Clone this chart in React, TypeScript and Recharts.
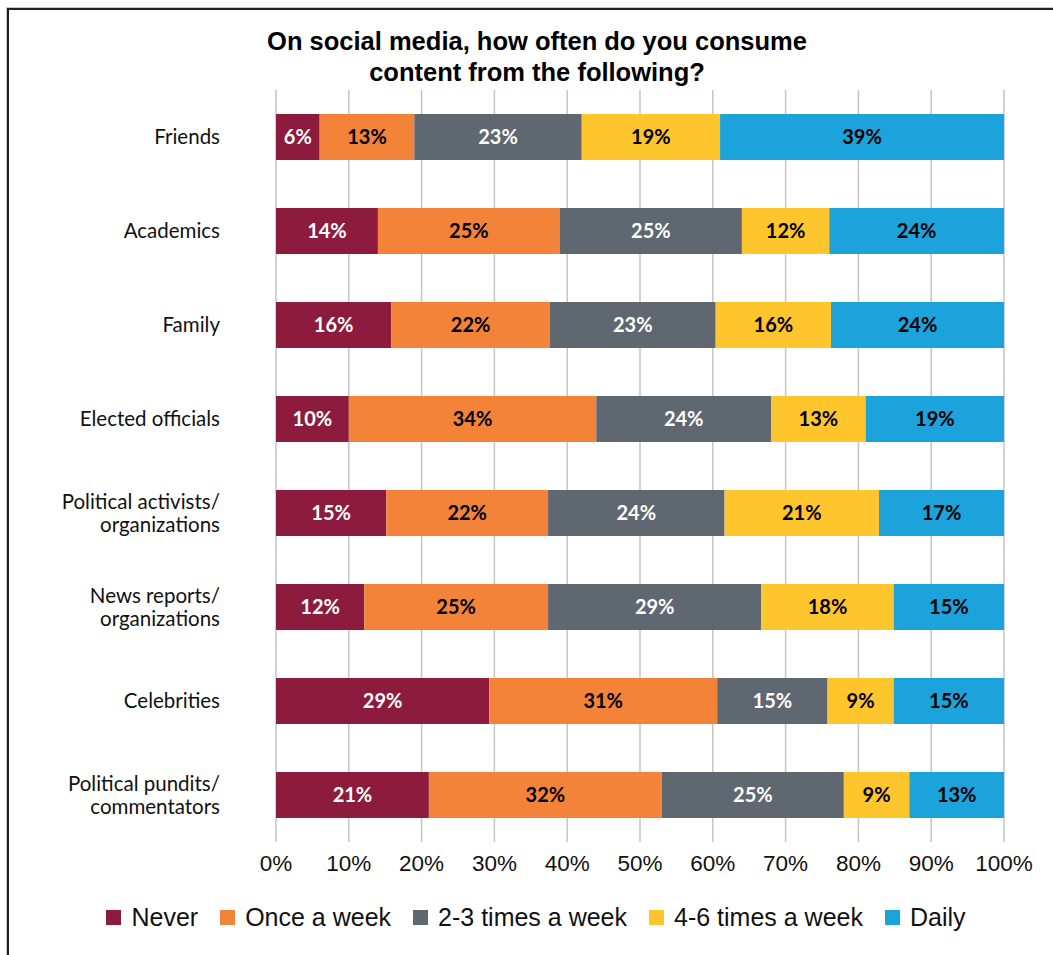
import React from "react";
import {
  BarChart,
  Bar,
  XAxis,
  YAxis,
  CartesianGrid,
  LabelList,
} from "recharts";

const categories = [
  "Friends",
  "Academics",
  "Family",
  "Elected officials",
  "Political activists/organizations",
  "News reports/organizations",
  "Celebrities",
  "Political pundits/commentators",
];

const never = [6, 14, 16, 10, 15, 12, 29, 21];
const onceWeek = [13, 25, 22, 34, 22, 25, 31, 32];
const twoThree = [23, 25, 23, 24, 24, 29, 15, 25];
const fourSix = [19, 12, 16, 13, 21, 18, 9, 9];
const daily = [39, 24, 24, 19, 17, 15, 15, 13];

const xTicks = [0, 0.1, 0.2, 0.3, 0.4, 0.5, 0.6, 0.7, 0.8, 0.9, 1];

const SERIES = [
  { key: "never", name: "Never", color: "#8C1B3E", text: "#fff" },
  { key: "onceWeek", name: "Once a week", color: "#F4833A", text: "#000" },
  { key: "twoThree", name: "2-3 times a week", color: "#5F6770", text: "#fff" },
  { key: "fourSix", name: "4-6 times a week", color: "#FEC52C", text: "#000" },
  { key: "daily", name: "Daily", color: "#1DA3DB", text: "#000" },
];

const data = categories.map((name, i) => ({
  name,
  never: never[i],
  onceWeek: onceWeek[i],
  twoThree: twoThree[i],
  fourSix: fourSix[i],
  daily: daily[i],
}));

const ARIAL = "'Liberation Sans', Arial, sans-serif";
const CALIBRI = "Lato, 'Noto Sans', sans-serif";

function splitLabel(s: string) {
  const i = s.indexOf("/");
  if (i < 0) return [s];
  return [s.slice(0, i + 1), s.slice(i + 1)];
}

const CategoryTick = ({ x, y, payload }: any) => {
  const lines = splitLabel(payload.value);
  const lh = 23;
  const start = y - ((lines.length - 1) * lh) / 2;
  return (
    <text x={x} y={start} textAnchor="end" fontFamily={CALIBRI} fontSize={20.5} fill="#111">
      {lines.map((l, i) => (
        <tspan key={i} x={x} y={start + i * lh} dy="0.35em">
          {l}
        </tspan>
      ))}
    </text>
  );
};

export default function App() {
  return (
    <div
      style={{
        position: "fixed",
        left: 0,
        top: 0,
        width: 1053,
        height: 955,
        overflow: "hidden",
        background: "#fff",
      }}
    >
      <div
        style={{
          position: "absolute",
          left: 7,
          top: 8,
          width: 1120,
          height: 1020,
          border: "2px solid #231f20",
          boxShadow: "-1px -1px 0 #c8c8c8",
        }}
      />
      <div
        style={{
          position: "absolute",
          left: 0,
          top: 26,
          width: 1074,
          textAlign: "center",
          fontFamily: ARIAL,
          fontWeight: "bold",
          fontSize: 25.5,
          lineHeight: "31px",
          color: "#000",
        }}
      >
        On social media, how often do you consume
        <br />
        content from the following?
      </div>
      <div style={{ position: "absolute", left: 0, top: 0 }}>
        <BarChart
          width={1053}
          height={955}
          data={data}
          layout="vertical"
          stackOffset="expand"
          barSize={46}
          margin={{ top: 90, right: 49, left: 10, bottom: 63 }}
        >
          <CartesianGrid horizontal={false} stroke="#c4c4c4" strokeWidth={1.5} />
          <XAxis
            type="number"
            domain={[0, 1]}
            ticks={xTicks}
            tickFormatter={(v: number) => `${Math.round(v * 100)}%`}
            axisLine={false}
            tickLine={false}
            tickMargin={7}
            height={50}
            interval={0}
            tick={{ fontSize: 22.5, fill: "#111", fontFamily: ARIAL }}
          />
          <YAxis
            type="category"
            dataKey="name"
            width={266}
            axisLine={false}
            tickLine={false}
            tickMargin={50}
            interval={0}
            tick={<CategoryTick />}
          />
          {SERIES.map((s) => (
            <Bar key={s.key} dataKey={s.key} stackId="a" fill={s.color} isAnimationActive={false}>
              <LabelList
                dataKey={s.key}
                position="center"
                formatter={(v: any) => `${v}%`}
                fill={s.text}
                fontSize={20}
                fontWeight="bold"
                fontFamily={CALIBRI}
              />
            </Bar>
          ))}
        </BarChart>
      </div>
      <div
        style={{
          position: "absolute",
          left: 0,
          top: 903,
          width: 1072,
          display: "flex",
          justifyContent: "center",
          gap: 22,
          fontFamily: ARIAL,
          fontSize: 25,
          color: "#111",
        }}
      >
        {SERIES.map((s) => (
          <div key={s.key} style={{ display: "flex", alignItems: "center", gap: 10 }}>
            <div style={{ width: 15, height: 15, background: s.color }} />
            <span>{s.name}</span>
          </div>
        ))}
      </div>
    </div>
  );
}
